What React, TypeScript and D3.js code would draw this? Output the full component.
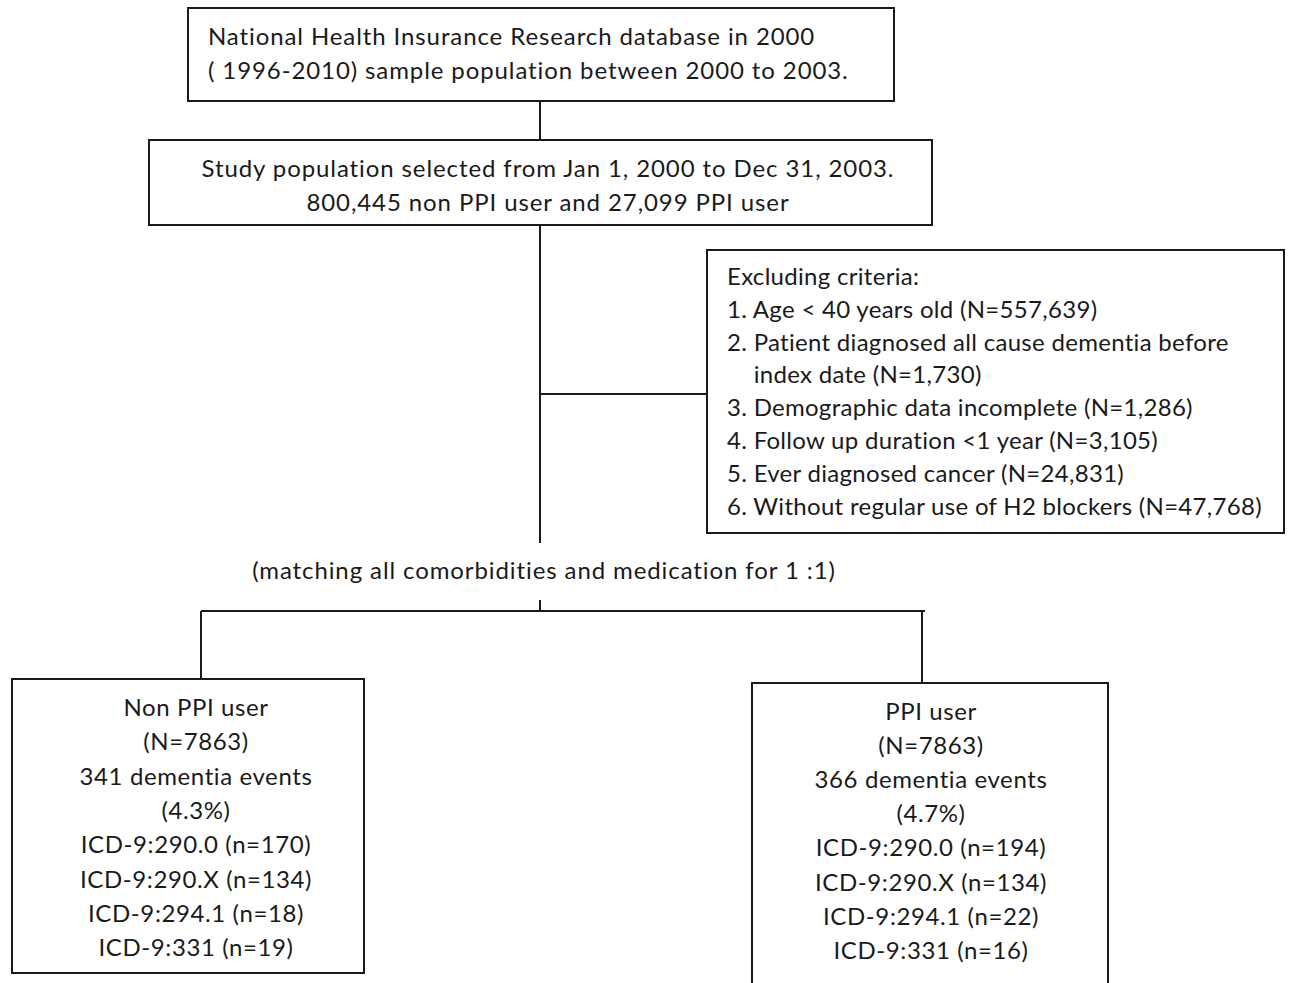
import React, { useEffect, useRef } from 'react';
import * as d3 from 'd3';

// text content of each box
const sourceLines = [
	'National Health Insurance Research database in 2000',
	'( 1996-2010) sample population between 2000 to 2003.',
];
const studyLines = [
	'Study population selected from Jan 1, 2000 to Dec 31, 2003.',
	'800,445 non PPI user and 27,099 PPI user',
];
const excludeTitle = 'Excluding criteria:';
const excludeItems = [
	'1. Age < 40 years old (N=557,639)',
	'2. Patient diagnosed all cause dementia before',
	'index date (N=1,730)',
	'3. Demographic data incomplete (N=1,286)',
	'4. Follow up duration <1 year (N=3,105)',
	'5. Ever diagnosed cancer (N=24,831)',
	'6. Without regular use of H2 blockers (N=47,768)',
];
const matchingNote = '(matching all comorbidities and medication for 1 :1)';
const groupNames = ['Non PPI user', 'PPI user'];
const groupN = [7863, 7863];
const dementiaEvents = [341, 366];
const dementiaPct = ['4.3%', '4.7%'];
const icdCodes = ['290.0', '290.X', '294.1', '331'];
const icdNonPPI = [170, 134, 18, 19];
const icdPPI = [194, 134, 22, 16];

const W = 1290;
const H = 983;
const FONT = 'Lato, sans-serif';
const FS = 24;
const INK = '#1a1a1a';

const draw = (el: SVGSVGElement) => {
	const svg = d3.select(el);
	svg.selectAll('*').remove();

	const box = (x0: number, y0: number, x1: number, y1: number) =>
		svg.append('rect')
			.attr('x', x0).attr('y', y0)
			.attr('width', x1 - x0).attr('height', y1 - y0)
			.attr('fill', 'white').attr('stroke', INK).attr('stroke-width', 2);

	const line = (pts: [number, number][]) =>
		svg.append('path')
			.attr('d', d3.line()(pts))
			.attr('fill', 'none').attr('stroke', INK).attr('stroke-width', 2);

	const lines = (texts: string[], x: number, y0: number, step: number, anchor: string, spacing = 0.9, indent: number[] = []) => {
		const y = d3.scaleLinear().domain([0, 1]).range([y0 - 1.5, y0 - 1.5 + step]);
		return svg.append('g').selectAll('text').data(texts).join('text')
			.attr('x', (_, i) => x + (indent[i] || 0))
			.attr('y', (_, i) => y(i))
			.attr('dominant-baseline', 'central')
			.attr('text-anchor', anchor)
			.attr('font-family', FONT)
			.attr('font-size', FS)
			.attr('letter-spacing', spacing)
			.attr('fill', INK)
			.text(d => d);
	};

	// connectors
	line([[540, 101], [540, 140]]);
	line([[540, 225], [540, 543]]);
	line([[540, 394], [707, 394]]);
	line([[540, 600], [540, 611]]);
	line([[201, 611], [925, 611]]);
	line([[201, 611], [201, 679]]);
	line([[922, 611], [922, 683]]);

	// top boxes
	box(188, 8, 894, 101);
	lines(sourceLines, 208, 37, 34, 'start');

	box(149, 140, 932, 225);
	lines(studyLines, 548, 169, 34, 'middle');

	// exclusion box: continuation line aligned under the item text
	box(707, 250, 1284, 533);
	const probe = svg.append('text')
		.attr('font-family', FONT).attr('font-size', FS).attr('letter-spacing', 0.3)
		.text('2.\u00a0');
	const hang = (probe.node() as SVGTextElement).getComputedTextLength();
	probe.remove();
	lines([excludeTitle, ...excludeItems], 727, 277, 32.8, 'start', 0.3, [0, 0, 0, hang]);

	lines([matchingNote], 544, 571, 34, 'middle');

	// group boxes
	const groupText = (g: number, icd: number[]) => [
		groupNames[g],
		`(N=${groupN[g]})`,
		`${dementiaEvents[g]} dementia events`,
		`(${dementiaPct[g]})`,
		...icdCodes.map((c, i) => `ICD-9:${c} (n=${icd[i]})`),
	];

	box(12, 679, 364, 973);
	lines(groupText(0, icdNonPPI), 196, 708, 34.3, 'middle', 0.6);

	box(752, 683, 1108, 995);
	lines(groupText(1, icdPPI), 931, 712, 34.1, 'middle', 0.6);
};

export default function App() {
	const ref = useRef<SVGSVGElement>(null);
	useEffect(() => {
		if (ref.current) draw(ref.current);
	}, []);
	return (
		<svg ref={ref} width={W} height={H}
			style={{ position: 'absolute', left: 0, top: 0, background: 'white' }} />
	);
}
